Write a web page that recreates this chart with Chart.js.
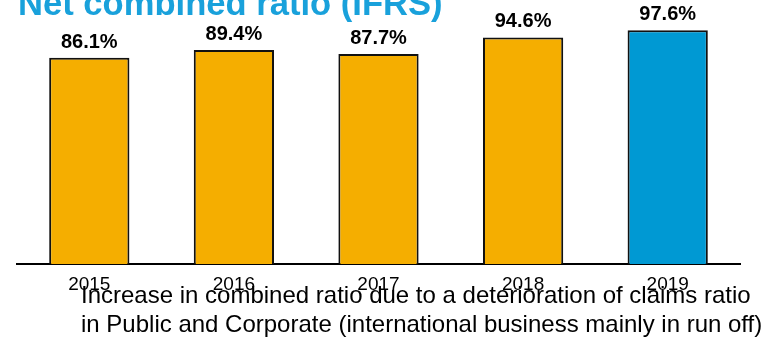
<!DOCTYPE html>
<html>
<head>
<meta charset="utf-8">
<script src="https://cdn.jsdelivr.net/npm/chart.js@4/dist/chart.umd.min.js"></script>
<style>
  html, body { margin: 0; padding: 0; background: #fff; overflow: hidden; }
  #wrap { position: relative; width: 778px; height: 341px; overflow: hidden; }
  #chart { position: absolute; left: 0; top: 0; }
  #title { position: absolute; left: 18px; top: -14.3px; font-family: "Liberation Sans", Arial, sans-serif; font-weight: bold; font-size: 34.6px; line-height: 34.6px; color: #19A1DB; white-space: nowrap; }
  #note { position: absolute; left: 81px; top: 281.4px; font-family: "Liberation Sans", Arial, sans-serif; font-size: 24px; line-height: 28.5px; color: #000; white-space: nowrap; }
</style>
</head>
<body>
<div id="wrap">
  <canvas id="chart" width="778" height="341"></canvas>
  <div id="title">Net combined ratio (IFRS)</div>
  <div id="note">Increase in combined ratio due to a deterioration of claims ratio<br>in Public and Corporate (international business mainly in run off)</div>
</div>
<script>
const categories = ["2015", "2016", "2017", "2018", "2019"];
const combinedRatio = [86.1, 89.4, 87.7, 94.6, 97.6];
const valueLabels = ["86.1%", "89.4%", "87.7%", "94.6%", "97.6%"];
const barColors = ["#F5AE00", "#F5AE00", "#F5AE00", "#F5AE00", "#0099D3"];

const labelPlugin = {
  id: "valueLabels",
  afterDatasetsDraw(chart) {
    const ctx = chart.ctx;
    const meta = chart.getDatasetMeta(0);
    ctx.save();
    ctx.font = "bold 20px 'Liberation Sans', Arial, sans-serif";
    ctx.fillStyle = "#000";
    ctx.textAlign = "center";
    ctx.textBaseline = "alphabetic";
    meta.data.forEach((bar, i) => {
      ctx.fillText(valueLabels[i], bar.x, bar.y - 10);
    });
    ctx.restore();
  }
};

new Chart(document.getElementById("chart"), {
  type: "bar",
  data: {
    labels: categories,
    datasets: [{
      data: combinedRatio,
      backgroundColor: barColors,
      borderColor: "#111",
      borderWidth: 2,
      categoryPercentage: 0.555,
      barPercentage: 1.0
    }]
  },
  options: {
    responsive: false,
    animation: false,
    devicePixelRatio: 1,
    layout: { padding: { left: 17, right: 38, top: 24.5, bottom: 0 } },
    plugins: { legend: { display: false }, tooltip: { enabled: false } },
    scales: {
      x: {
        grid: { display: false, drawTicks: false },
        border: { display: true, color: "#000", width: 2 },
        ticks: {
          color: "#000",
          padding: 9,
          font: { family: "'Liberation Sans', Arial, sans-serif", size: 19 }
        },
        afterFit(scale) { scale.height = 77; }
      },
      y: {
        display: false,
        min: 0,
        max: 100
      }
    }
  },
  plugins: [labelPlugin]
});
</script>
</body>
</html>
